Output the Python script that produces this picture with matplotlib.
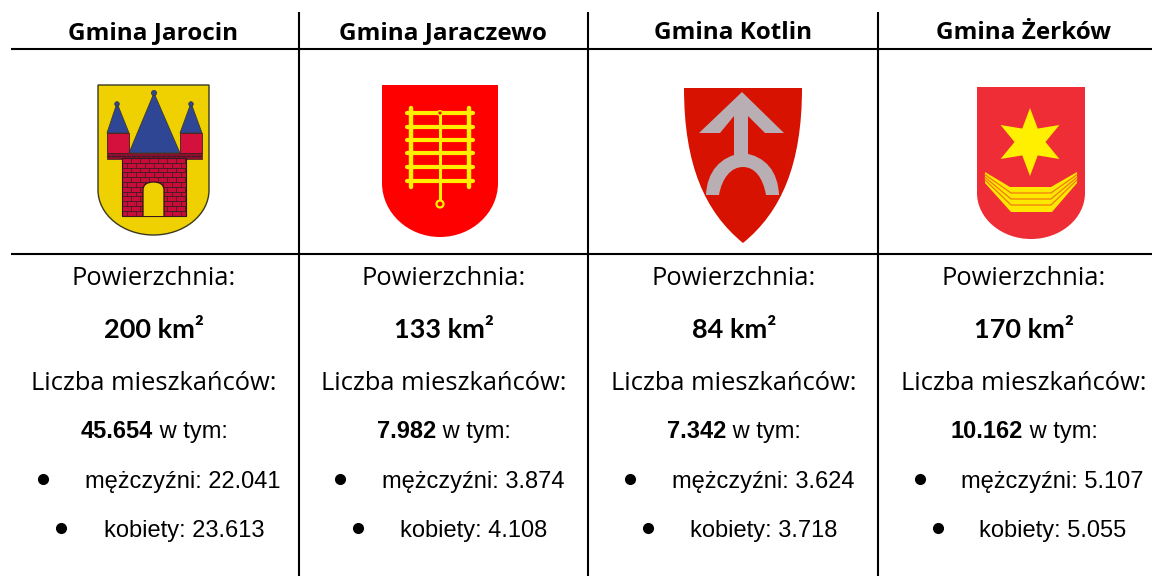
import numpy as np
import matplotlib
matplotlib.use("Agg")
import matplotlib.pyplot as plt
from matplotlib.patches import PathPatch, Polygon, Rectangle, Circle
from matplotlib.path import Path

names = ["Gmina Jarocin", "Gmina Jaraczewo", "Gmina Kotlin", "Gmina Żerków"]
area = ["200 km²", "133 km²", "84 km²", "170 km²"]
population = ["45.654", "7.982", "7.342", "10.162"]
men = ["22.041", "3.874", "3.624", "5.107"]
women = ["23.613", "4.108", "3.718", "5.055"]
centers = [154, 444, 734, 1024]

fig = plt.figure(figsize=(11.59, 5.76), dpi=100, facecolor="white")
ax = fig.add_axes([0, 0, 1, 1])
ax.set_xlim(0, 1159)
ax.set_ylim(576, 0)
ax.axis("off")

HEAD = "Open Sans"
ARIAL = "Liberation Sans"

# grid
for x in (299, 588, 878):
    ax.plot([x, x], [12, 576], color="black", lw=1.5, solid_capstyle="butt")
for y in (49, 254):
    ax.plot([11, 1152], [y, y], color="black", lw=1.5, solid_capstyle="butt")


def shield(l, r, top, start, bottom, fc, ec="none", lw=0):
    cx = (l + r) / 2
    hw = (r - l) / 2
    h = bottom - start
    verts = [(l, top), (r, top), (r, start),
             (r, start + h * 0.55), (cx + hw * 0.55, bottom), (cx, bottom),
             (cx - hw * 0.55, bottom), (l, start + h * 0.55), (l, start),
             (l, top)]
    codes = [Path.MOVETO, Path.LINETO, Path.LINETO,
             Path.CURVE4, Path.CURVE4, Path.CURVE4,
             Path.CURVE4, Path.CURVE4, Path.CURVE4,
             Path.CLOSEPOLY]
    ax.add_patch(PathPatch(Path(verts, codes), fc=fc, ec=ec, lw=lw, zorder=2))


# --- Jarocin ---
shield(98, 209, 85, 190, 235, "#EFD000", "#3a3a20", 1.0)
DARK = "#3a1a24"
BLUE = "#2F4694"
RED = "#D4103C"
for tip, a, b in [((117, 103), (107, 133), (129, 133)), ((191, 103), (180, 133), (202, 133)),
                  ((154, 93), (129, 153), (180, 153))]:
    ax.add_patch(Polygon([tip, a, b], fc=BLUE, ec="#3a3a30", lw=0.6, zorder=3))
for x, y, r in [(117, 104, 2.3), (191, 104, 2.3), (154, 93, 2.6)]:
    ax.add_patch(Circle((x, y), r, fc=BLUE, ec="#333", lw=0.5, zorder=4))
for x in (107, 180):
    ax.add_patch(Rectangle((x, 133), 22, 20, fc=RED, ec="#3a2020", lw=0.6, zorder=3))
ax.add_patch(Rectangle((107, 153), 95, 6, fc="#8a1030", ec="#3a2020", lw=0.5, zorder=3))
ax.add_patch(Rectangle((122, 158), 64, 58, fc="#C80E38", ec="#201018", lw=0.8, zorder=3))
for i, y in enumerate(np.arange(158, 216, 4.8)):
    ax.plot([122, 186], [y, y], color=DARK, lw=0.6, zorder=4)
    for x in np.arange(122 + (i % 2) * 4.5, 186, 9):
        ax.plot([x, x], [y, min(y + 4.8, 216)], color=DARK, lw=0.5, zorder=4)
for x in np.arange(107, 200, 5):
    ax.plot([x, x + 3], [155.5, 155.5], color=DARK, lw=0.8, zorder=4)
arch = Path([(143, 216), (143, 190), (143, 182), (153.5, 182), (164, 182), (164, 190), (164, 216)],
            [Path.MOVETO, Path.LINETO, Path.CURVE3, Path.CURVE3, Path.CURVE3, Path.CURVE3, Path.LINETO])
ax.add_patch(PathPatch(arch, fc="#EFD000", ec="#301018", lw=0.9, zorder=5))

# --- Jaraczewo ---
shield(382, 498, 85, 183, 237, "#FF0000")
YEL = "#FFF000"
for x in (411, 469):
    ax.plot([x, x], [108, 187], color=YEL, lw=3.2, solid_capstyle="round", zorder=3)
for y in (113, 127, 140, 153, 167, 181):
    ax.plot([407, 473], [y, y], color=YEL, lw=3.0, solid_capstyle="round", zorder=3)
ax.plot([440, 440], [113, 201], color=YEL, lw=2.2, zorder=3)
ax.add_patch(Circle((440, 113), 2.3, fc="#E01010", ec=YEL, lw=1.0, zorder=4))
ax.add_patch(Circle((440, 204), 3.5, fc="#FF0000", ec=YEL, lw=1.6, zorder=4))

# --- Kotlin ---
k = Path([(684, 88), (802, 88), (802, 165), (781, 212), (743, 243), (705, 212), (684, 165), (684, 88), (684, 88)],
         [Path.MOVETO, Path.LINETO, Path.CURVE4, Path.CURVE4, Path.CURVE4, Path.CURVE4, Path.CURVE4, Path.LINETO, Path.CLOSEPOLY])
ax.add_patch(PathPatch(k, fc="#D81200", ec="none", zorder=2))
GRAY = "#B8AEB4"
ax.add_patch(Polygon([(742, 92), (699, 133), (720, 133), (734, 116), (734, 156), (748, 156),
                      (748, 116), (765, 133), (784, 133)], fc=GRAY, ec="none", zorder=3))
bow = Path([(706, 195), (707, 172), (720, 156), (743, 153), (766, 156), (778, 172), (779, 195),
            (766, 195), (763, 178), (755, 167), (743, 167), (731, 167), (722, 178), (719, 195), (706, 195)],
           [Path.MOVETO, Path.CURVE4, Path.CURVE4, Path.CURVE4, Path.CURVE4, Path.CURVE4, Path.CURVE4,
            Path.LINETO, Path.CURVE4, Path.CURVE4, Path.CURVE4, Path.CURVE4, Path.CURVE4, Path.CURVE4, Path.CLOSEPOLY])
ax.add_patch(PathPatch(bow, fc=GRAY, ec="none", zorder=3))

# --- Żerków ---
shield(977, 1085, 87, 193, 239, "#EE2D36")
angles = np.deg2rad(np.arange(0, 360, 30))
radii = np.where(np.arange(12) % 2 == 0, 34, 15.5)
star = np.c_[1030 + radii * np.sin(angles), 142 - radii * np.cos(angles)]
ax.add_patch(Polygon(star, fc="#FFF000", ec="none", zorder=3))
ax.add_patch(Polygon([(985, 172), (1010, 187), (1051, 187), (1077, 172), (1077, 183), (1052, 212),
                      (1011, 212), (985, 183)], fc="#FFE800", ec="none", zorder=3))
for d in (6, 12, 18):
    f = d / 25
    ax.plot([985, 1011, 1051, 1077],
            [172 + 11 * f, 187 + d, 187 + d, 172 + 11 * f],
            color="#F07A10", lw=0.9, zorder=4)

# --- text ---
men_x = [183, 473, 763, 1052]
women_x = [184, 473.5, 763.5, 1052.5]
men_bx = [43, 340, 630, 920]
women_bx = [61, 358, 648, 938]
rend = fig.canvas.get_renderer()
for i, cx in enumerate(centers):
    ax.text(cx - 1, 39, names[i], ha="center", va="baseline", family=HEAD, weight="bold", fontsize=17.5, color="black")
    ax.text(cx, 285, "Powierzchnia:", ha="center", va="baseline", family=HEAD, fontsize=18.4, color="black")
    ax.text(cx, 338, area[i], ha="center", va="baseline", family="Lato", weight="bold", fontsize=19.5, color="black")
    ax.text(cx, 390, "Liczba mieszkańców:", ha="center", va="baseline", family=HEAD, fontsize=18.4, color="black")
    a = ax.text(0, 438, population[i], ha="left", va="baseline", family=ARIAL, weight="bold", fontsize=17, color="black")
    b = ax.text(0, 438, " w tym:", ha="left", va="baseline", family=ARIAL, fontsize=17, color="black")
    wa = a.get_window_extent(rend).width
    wb = b.get_window_extent(rend).width
    a.set_x(cx - (wa + wb) / 2)
    b.set_x(cx - (wa + wb) / 2 + wa)
    ax.text(men_x[i], 488, "mężczyźni: " + men[i], ha="center", va="baseline", family=ARIAL, fontsize=17, color="black")
    ax.text(women_x[i], 537, "kobiety: " + women[i], ha="center", va="baseline", family=ARIAL, fontsize=17, color="black")
    ax.plot(men_bx[i], 479, "o", ms=8, color="black", mew=0)
    ax.plot(women_bx[i], 528, "o", ms=8, color="black", mew=0)

fig.savefig("out.png", dpi=100, facecolor="white")
